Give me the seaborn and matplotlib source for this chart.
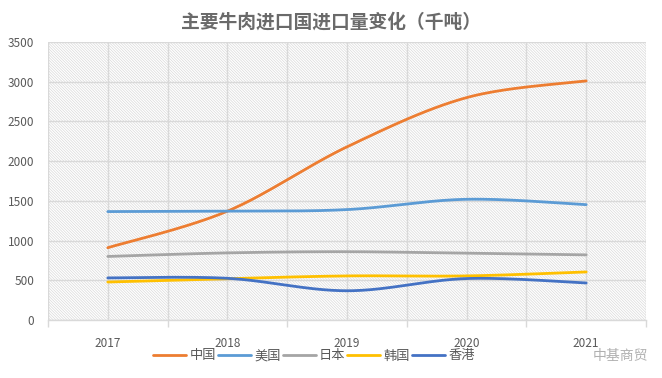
import numpy as np
import pandas as pd
import matplotlib
matplotlib.use("Agg")
import matplotlib.pyplot as plt
import seaborn as sns
from matplotlib.patches import Rectangle

years = ["2017", "2018", "2019", "2020", "2021"]
china = [910, 1370, 2180, 2800, 3010]
usa = [1365, 1370, 1390, 1520, 1452]
japan = [800, 845, 860, 840, 820]
korea = [478, 520, 555, 555, 605]
hongkong = [530, 525, 368, 522, 466]
series_names = ["中国", "美国", "日本", "韩国", "香港"]
series_values = [china, usa, japan, korea, hongkong]
colors = ["#ED7D31", "#5B9BD5", "#A5A5A5", "#FFC000", "#4472C4"]
yticks = [0, 500, 1000, 1500, 2000, 2500, 3000, 3500]

sns.set_theme(style="white")
plt.rcParams['font.family'] = ['Noto Sans CJK SC', 'DejaVu Sans']
plt.rcParams['hatch.color'] = '#d9d9d9'
plt.rcParams['hatch.linewidth'] = 0.5


def catmull(xs, ys, n=40):
    xs = np.asarray(xs, float); ys = np.asarray(ys, float)
    px = np.concatenate([[xs[0]], xs, [xs[-1]]])
    py = np.concatenate([[ys[0]], ys, [ys[-1]]])
    ox, oy = [], []
    for i in range(1, len(px) - 2):
        t = np.linspace(0, 1, n, endpoint=(i == len(px) - 3))
        for arr, out in ((px, ox), (py, oy)):
            p0, p1, p2, p3 = arr[i - 1], arr[i], arr[i + 1], arr[i + 2]
            out.extend(0.5 * ((2 * p1) + (-p0 + p2) * t + (2 * p0 - 5 * p1 + 4 * p2 - p3) * t ** 2
                              + (-p0 + 3 * p1 - 3 * p2 + p3) * t ** 3))
    return np.array(ox), np.array(oy)


rows = []
for name, vals in zip(series_names, series_values):
    sx, sy = catmull(range(len(years)), vals)
    for a, b in zip(sx, sy):
        rows.append({"x": a, "y": b, "国家": name})
df = pd.DataFrame(rows)

fig = plt.figure(figsize=(6.62, 3.78), dpi=100)
ax = fig.add_axes([48 / 662, 58 / 378, 598 / 662, 278 / 378])
ax.set_xlim(-0.5, 4.5)
ax.set_ylim(0, 3500)

ax.add_patch(Rectangle((0, 0), 1, 1, transform=ax.transAxes, facecolor='white',
                       edgecolor='#d9d9d9', hatch='\\' * 12, linewidth=0, zorder=0))

for v in yticks:
    ax.axhline(v, color='#d9d9d9', lw=1, zorder=1)
for v in np.arange(-0.5, 4.51, 0.5):
    ax.axvline(v, color='#d9d9d9', lw=1, zorder=1)

sns.lineplot(data=df, x="x", y="y", hue="国家", palette=colors, sort=False,
             estimator=None, linewidth=2.0, ax=ax, zorder=3, legend=False)

for s in ['top', 'right', 'left']:
    ax.spines[s].set_visible(False)
ax.spines['bottom'].set_color('#d9d9d9')
ax.spines['bottom'].set_linewidth(1)

ax.set_xticks(range(len(years)))
ax.set_xticklabels(years, fontsize=8.5, color='#595959')
ax.set_xticks(np.arange(-0.5, 4.51, 1), minor=True)
ax.tick_params(axis='x', which='major', length=0, pad=12)
ax.tick_params(axis='x', which='minor', length=5, color='#d9d9d9', width=1, bottom=True)
ax.set_yticks(yticks)
ax.set_yticklabels([str(v) for v in yticks], fontsize=8.5, color='#595959')
ax.tick_params(axis='y', length=0, pad=10)
ax.set_xlabel("")
ax.set_ylabel("")

fig.text(0.5, 1 - 22 / 378, "主要牛肉进口国进口量变化（千吨）", ha='center', va='center',
         fontsize=13.5, color='#6a6a6a', fontweight='bold')

handles = [plt.Line2D([], [], color=c, lw=2.0) for c in colors]
fig.legend(handles, series_names, loc='center', bbox_to_anchor=(314 / 662, 1 - 356 / 378),
           ncol=5, frameon=False, fontsize=9.5, handlelength=2.5, handletextpad=0.25,
           columnspacing=0.15, labelcolor='#595959')

fig.text(620 / 662, 1 - 356 / 378, "中基商贸", ha='center', va='center', fontsize=10,
         color='#b0b0b0')

fig.savefig("out.png", dpi=100)
